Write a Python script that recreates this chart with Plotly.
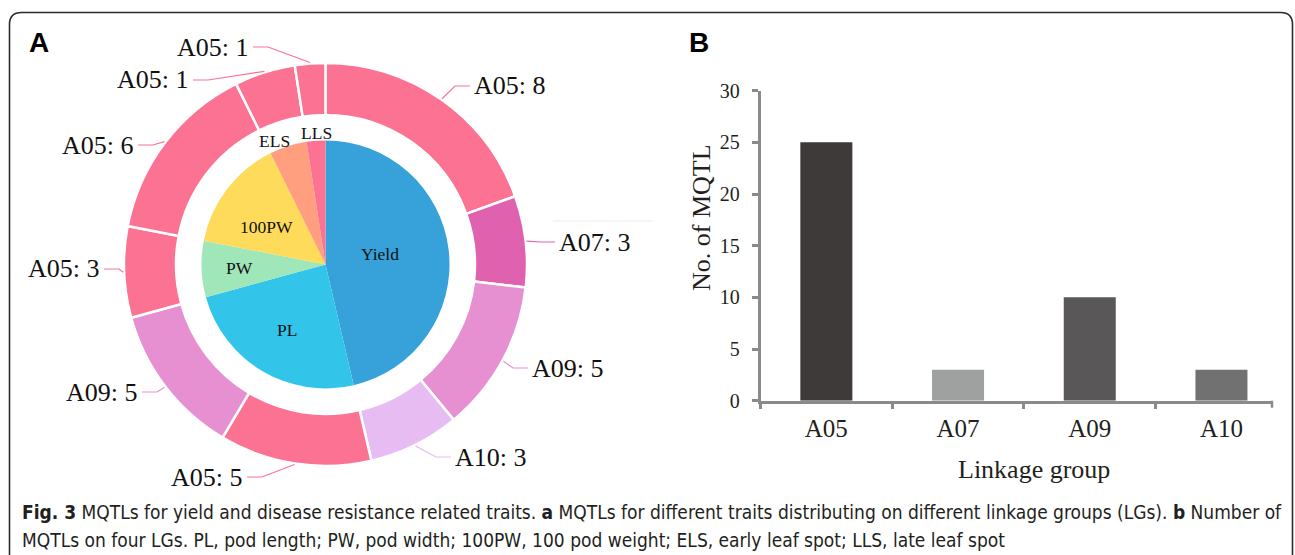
import math
import plotly.graph_objects as go

# ---------------- data ----------------
traits = ["Yield", "PL", "PW", "100PW", "ELS", "LLS"]
trait_values = [19, 10, 3, 6, 2, 1]
trait_colors = ["#37a2da", "#32c5e9", "#9fe6b8", "#ffdb5c", "#ff9f7f", "#fb7293"]

ring_groups = ["A05", "A07", "A09", "A10", "A05", "A09", "A05", "A05", "A05", "A05"]
ring_values = [8, 3, 5, 3, 5, 5, 3, 6, 2, 1]
ring_labels = ["A05: 8", "A07: 3", "A09: 5", "A10: 3", "A05: 5",
               "A09: 5", "A05: 3", "A05: 6", "A05: 1", "A05: 1"]
group_colors = {"A05": "#fb7293", "A07": "#e062ae", "A09": "#e690d1", "A10": "#e7bcf3"}

linkage_groups = ["A05", "A07", "A09", "A10"]
mqtl_counts = [25, 3, 10, 3]
bar_colors = ["#3e3a39", "#9fa0a0", "#595757", "#727171"]
y_ticks = [0, 5, 10, 15, 20, 25, 30]

caption_1 = ("<b>Fig. 3</b> MQTLs for yield and disease resistance related traits. <b>a</b> MQTLs for "
             "different traits distributing on different linkage groups (LGs). <b>b</b> Number of")
caption_2 = ("MQTLs on four LGs. PL, pod length; PW, pod width; 100PW, 100 pod weight; "
             "ELS, early leaf spot; LLS, late leaf spot")

# ---------------- layout helpers ----------------
W, H = 1295, 555
def px(x):
    return x / W
def py(y):
    return 1 - y / H

CX, CY = 325.5, 264.4
R_OUT, R_PIE = 201.5, 124.0
HOLE = 149.5 / 201.5
SERIF = "Liberation Serif, Times New Roman, serif"
GRAY = "#8a8a8a"
TXT = "#231f20"

fig = go.Figure()

# outer ring
fig.add_trace(go.Pie(
    values=ring_values, labels=[f"s{i}" for i in range(len(ring_values))],
    marker=dict(colors=[group_colors[g] for g in ring_groups], line=dict(color="white", width=2.5)),
    hole=HOLE, sort=False, direction="clockwise", rotation=0,
    textinfo="none", hoverinfo="text", hovertext=ring_labels, showlegend=False, automargin=False,
    domain=dict(x=[px(CX - R_OUT), px(CX + R_OUT)], y=[py(CY + R_OUT), py(CY - R_OUT)]),
))
# inner pie
fig.add_trace(go.Pie(
    values=trait_values, labels=traits,
    marker=dict(colors=trait_colors, line=dict(color="white", width=0)),
    sort=False, direction="clockwise", rotation=0,
    textinfo="none", showlegend=False, automargin=False,
    domain=dict(x=[px(CX - R_PIE), px(CX + R_PIE)], y=[py(CY + R_PIE), py(CY - R_PIE)]),
))

# bar chart
fig.add_trace(go.Bar(
    x=linkage_groups, y=mqtl_counts, marker=dict(color=bar_colors, line=dict(width=0)),
    width=0.395, xaxis="x", yaxis="y", showlegend=False,
))

X0, X1 = 760.5, 1273.0
Y0, Y1 = 400.7, 90.7
unit = 131.7
fig.update_layout(
    width=W, height=H, margin=dict(l=0, r=0, t=0, b=0, pad=0, autoexpand=False),
    paper_bgcolor="white", plot_bgcolor="white", showlegend=False,
    xaxis=dict(domain=[px(X0), px(X1)], anchor="y", type="category", automargin=False,
               range=[-0.5, -0.5 + (X1 - X0) / unit],
               showline=True, linecolor=GRAY, linewidth=2.5,
               ticks="outside", tickson="boundaries", ticklen=6, tickwidth=2.5, tickcolor=GRAY,
               tickfont=dict(family=SERIF, size=25, color=TXT), ticklabelstandoff=4,
               showgrid=False, zeroline=False),
    yaxis=dict(domain=[py(Y0), py(Y1)], anchor="x", range=[0, 30], automargin=False,
               tickvals=y_ticks, showline=True, linecolor=GRAY, linewidth=2.5,
               ticks="outside", ticklen=6, tickwidth=2.5, tickcolor=GRAY,
               tickfont=dict(family=SERIF, size=20, color=TXT), ticklabelstandoff=8,
               showgrid=False, zeroline=False),
)

annotations = []
shapes = []

# ring labels with leader lines
label_pos = [(472, 86, "r"), (557, 242, "r"), (530, 368, "r"), (453, 457, "r"),
             (245, 477, "l"), (140, 392, "l"), (102, 269, "l"), (136, 145, "l"),
             (191, 80, "l"), (251, 47, "l")]
total = sum(ring_values)
cum = 0
for v, lab, g, (lx, ly, side) in zip(ring_values, ring_labels, ring_groups, label_pos):
    th = 2 * math.pi * (cum + v / 2) / total
    cum += v
    ax_, ay_ = CX + (R_OUT + 1) * math.sin(th), CY - (R_OUT + 1) * math.cos(th)
    if side == "r":
        ex, bx = lx - 2, lx - 17
    else:
        ex, bx = lx + 2, lx + 17
    path = f"M {px(ax_)},{py(ay_)} L {px(bx)},{py(ly)} L {px(ex)},{py(ly)}"
    shapes.append(dict(type="path", xref="paper", yref="paper", path=path,
                       line=dict(color=group_colors[g], width=1.2)))
    annotations.append(dict(x=px(lx), y=py(ly), xref="paper", yref="paper", text=lab,
                            showarrow=False, xanchor="left" if side == "r" else "right",
                            yanchor="middle", font=dict(family=SERIF, size=26, color="#111")))

# inner pie labels
inner_pos = [(380, 254), (286.5, 330), (239.5, 268), (266, 227), (274.5, 141), (316.5, 133)]
for t, (lx, ly) in zip(traits, inner_pos):
    annotations.append(dict(x=px(lx), y=py(ly), xref="paper", yref="paper", text=t,
                            showarrow=False, xanchor="center", yanchor="middle",
                            font=dict(family=SERIF, size=17.5, color="#111")))

# axis titles
annotations.append(dict(x=px(701), y=py(218), xref="paper", yref="paper", text="No. of MQTL",
                        showarrow=False, textangle=-90, xanchor="center", yanchor="middle",
                        font=dict(family=SERIF, size=26, color=TXT)))
annotations.append(dict(x=px(1034), y=py(469), xref="paper", yref="paper", text="Linkage group",
                        showarrow=False, xanchor="center", yanchor="middle",
                        font=dict(family=SERIF, size=26, color=TXT)))

# panel letters
for letter, lx in (("A", 39), ("B", 699)):
    annotations.append(dict(x=px(lx), y=py(42), xref="paper", yref="paper", text=f"<b>{letter}</b>",
                            showarrow=False, xanchor="center", yanchor="middle",
                            font=dict(family="Liberation Sans, Arial, sans-serif", size=28, color="#000")))

# caption
CAP_FONT = "DejaVu Sans Condensed, Open Sans, sans-serif"
annotations.append(dict(x=px(20), y=py(512), xref="paper", yref="paper", text=caption_1,
                        showarrow=False, xanchor="left", yanchor="middle",
                        font=dict(family=CAP_FONT, size=19, color=TXT)))
annotations.append(dict(x=px(20), y=py(540), xref="paper", yref="paper", text=caption_2,
                        showarrow=False, xanchor="left", yanchor="middle",
                        font=dict(family=CAP_FONT, size=19, color=TXT)))

# tick mark at the far end of the category axis
shapes.append(dict(type="line", xref="paper", yref="paper", x0=px(X1 - 1), x1=px(X1 - 1),
                   y0=py(Y0), y1=py(Y0 + 7), line=dict(color=GRAY, width=2.5)))

# rounded border
L, T, Rr, B, rad = 9.5, 12.5, 1292.5, 570, 12
border = (f"M {px(L)},{py(B)} L {px(L)},{py(T + rad)} Q {px(L)},{py(T)} {px(L + rad)},{py(T)} "
          f"L {px(Rr - rad)},{py(T)} Q {px(Rr)},{py(T)} {px(Rr)},{py(T + rad)} L {px(Rr)},{py(B)}")
shapes.append(dict(type="path", xref="paper", yref="paper", path=border,
                   line=dict(color="#2b2b2b", width=1.6)))
# faint guide line near panel A
shapes.append(dict(type="line", xref="paper", yref="paper", x0=px(553), x1=px(653),
                   y0=py(221), y1=py(221), line=dict(color="#ececec", width=1)))

fig.update_layout(annotations=annotations, shapes=shapes)
fig.write_html("out.html")
